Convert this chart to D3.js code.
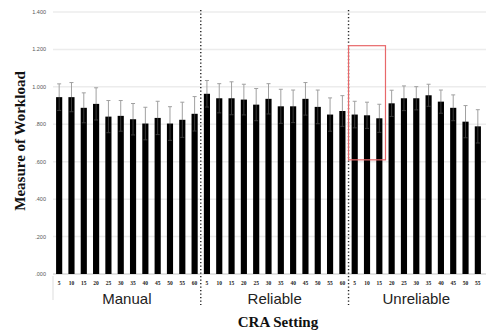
<!DOCTYPE html>
<html><head><meta charset="utf-8">
<script src="https://cdn.jsdelivr.net/npm/d3@7"></script>
<style>body{margin:0;background:#fff}svg{display:block}</style>
</head><body>
<svg id="c" width="486" height="332"></svg>
<script>
const groups = ["Manual", "Reliable", "Unreliable"];
const manualSettings = ["5","10","15","20","25","30","35","40","45","50","55","60"];
const reliableSettings = ["5","10","15","20","25","30","35","40","45","50","55","60"];
const unreliableSettings = ["5","10","15","20","25","30","35","40","45","50","55"];
const manualValues = [0.945,0.945,0.888,0.909,0.841,0.845,0.827,0.804,0.834,0.804,0.824,0.856];
const manualErrors = [0.071,0.078,0.080,0.086,0.086,0.082,0.084,0.087,0.089,0.090,0.094,0.092];
const reliableValues = [0.963,0.939,0.939,0.932,0.905,0.936,0.896,0.896,0.936,0.893,0.852,0.871];
const reliableErrors = [0.071,0.078,0.088,0.082,0.086,0.081,0.091,0.087,0.087,0.090,0.089,0.082];
const unreliableValues = [0.852,0.848,0.832,0.912,0.939,0.939,0.955,0.921,0.888,0.814,0.789];
const unreliableErrors = [0.071,0.070,0.075,0.070,0.066,0.062,0.059,0.062,0.069,0.086,0.089];
const yTicks = [0, 0.2, 0.4, 0.6, 0.8, 1.0, 1.2, 1.4];
const highlight = {group: "Unreliable", from: "5", to: "15", low: 0.61, high: 1.22};

const rows = [];
[[groups[0], manualSettings, manualValues, manualErrors],
 [groups[1], reliableSettings, reliableValues, reliableErrors],
 [groups[2], unreliableSettings, unreliableValues, unreliableErrors]].forEach(([g, s, v, e]) => {
  s.forEach((lab, i) => rows.push({group: g, label: lab, value: v[i], err: e[i], key: g + "|" + lab}));
});

const svg = d3.select("#c");
const L = 53, R = 484, T = 12, B = 274;
const x = d3.scaleBand().domain(rows.map(d => d.key)).range([L, R]).paddingInner(0.5).paddingOuter(0.25);
const y = d3.scaleLinear().domain([0, 1.4]).range([B, T]);
const step = x.step();
const bandStart = k => x(k) - step * x.paddingInner() / 2;
const bandEnd = k => x(k) + x.bandwidth() + step * x.paddingInner() / 2;

// gridlines
svg.append("g").selectAll("line").data(yTicks).join("line")
  .attr("x1", L).attr("x2", 486).attr("y1", d => y(d)).attr("y2", d => y(d))
  .attr("stroke", d => d === 0 ? "#d8d8d8" : "#ececec").attr("stroke-width", 1.5);

// y labels
const fmt = d => d3.format(".3f")(d).replace(/^0/, "");
svg.append("g").selectAll("text").data(yTicks).join("text")
  .attr("x", 46).attr("y", d => y(d) + 2)
  .attr("text-anchor", "end").attr("font-family", "Liberation Sans, Arial, sans-serif")
  .attr("font-size", 5.5).attr("fill", "#555").text(fmt);

// bars
svg.append("g").selectAll("rect").data(rows).join("rect")
  .attr("x", d => x(d.key)).attr("width", x.bandwidth())
  .attr("y", d => y(d.value)).attr("height", d => y(0) - y(d.value))
  .attr("fill", "#000");

// error bars
const eb = svg.append("g");
eb.selectAll("line.up").data(rows).join("line").attr("class", "up")
  .attr("x1", d => x(d.key) + x.bandwidth() / 2).attr("x2", d => x(d.key) + x.bandwidth() / 2)
  .attr("y1", d => y(d.value)).attr("y2", d => y(d.value + d.err))
  .attr("stroke", "#a0a0a0").attr("stroke-width", 1);
eb.selectAll("line.cap").data(rows).join("line").attr("class", "cap")
  .attr("x1", d => x(d.key) + x.bandwidth() / 2 - 2).attr("x2", d => x(d.key) + x.bandwidth() / 2 + 2)
  .attr("y1", d => y(d.value + d.err)).attr("y2", d => y(d.value + d.err))
  .attr("stroke", "#a0a0a0").attr("stroke-width", 1);
eb.selectAll("line.dn").data(rows).join("line").attr("class", "dn")
  .attr("x1", d => x(d.key) + x.bandwidth() / 2).attr("x2", d => x(d.key) + x.bandwidth() / 2)
  .attr("y1", d => y(d.value)).attr("y2", d => y(d.value - d.err))
  .attr("stroke", "#3a3a3a").attr("stroke-width", 1);
eb.selectAll("line.dcap").data(rows).join("line").attr("class", "dcap")
  .attr("x1", d => x(d.key) + x.bandwidth() / 2 - 2).attr("x2", d => x(d.key) + x.bandwidth() / 2 + 2)
  .attr("y1", d => y(d.value - d.err)).attr("y2", d => y(d.value - d.err))
  .attr("stroke", "#3a3a3a").attr("stroke-width", 1);

// category tick labels
svg.append("g").selectAll("text").data(rows).join("text")
  .attr("x", d => x(d.key) + x.bandwidth() / 2).attr("y", 285)
  .attr("text-anchor", "middle").attr("font-family", "Liberation Serif, Times New Roman, serif")
  .attr("font-weight", "bold").attr("font-size", 5.5).attr("fill", "#222").text(d => d.label);

// left bracket line of category axis
svg.append("line").attr("x1", L).attr("x2", L).attr("y1", B + 2).attr("y2", 300)
  .attr("stroke", "#ddd").attr("stroke-width", 1);

// group separators
const firstKeys = groups.map(g => rows.find(d => d.group === g).key);
const lastKeys = groups.map(g => rows.filter(d => d.group === g).slice(-1)[0].key);
svg.append("g").selectAll("line").data(firstKeys.slice(1)).join("line")
  .attr("x1", k => bandStart(k)).attr("x2", k => bandStart(k))
  .attr("y1", 10).attr("y2", 305)
  .attr("stroke", "#222").attr("stroke-width", 1.4).attr("stroke-dasharray", "1.3,2.2");

// group labels
svg.append("g").selectAll("text").data(groups).join("text")
  .attr("x", (g, i) => (bandStart(firstKeys[i]) + bandEnd(lastKeys[i])) / 2).attr("y", 304)
  .attr("text-anchor", "middle").attr("font-family", "Liberation Sans, Arial, sans-serif")
  .attr("font-size", 15).attr("fill", "#222").text(g => g);

// axis titles
svg.append("text").attr("x", 278).attr("y", 327).attr("text-anchor", "middle")
  .attr("font-family", "Liberation Serif, Times New Roman, serif").attr("font-weight", "bold")
  .attr("font-size", 15).attr("fill", "#111").text("CRA Setting");
svg.append("text").attr("transform", "translate(25,141) rotate(-90)").attr("text-anchor", "middle")
  .attr("font-family", "Liberation Serif, Times New Roman, serif").attr("font-weight", "bold")
  .attr("font-size", 15).attr("fill", "#111").text("Measure of Workload");

// highlight box
const hFirst = rows.find(d => d.group === highlight.group && d.label === highlight.from).key;
const hLast = rows.find(d => d.group === highlight.group && d.label === highlight.to).key;
svg.append("rect")
  .attr("x", bandStart(hFirst)).attr("width", bandEnd(hLast) - bandStart(hFirst))
  .attr("y", y(highlight.high)).attr("height", y(highlight.low) - y(highlight.high))
  .attr("fill", "none").attr("stroke", "#e8686a").attr("stroke-width", 1.2);
</script>
</body></html>
